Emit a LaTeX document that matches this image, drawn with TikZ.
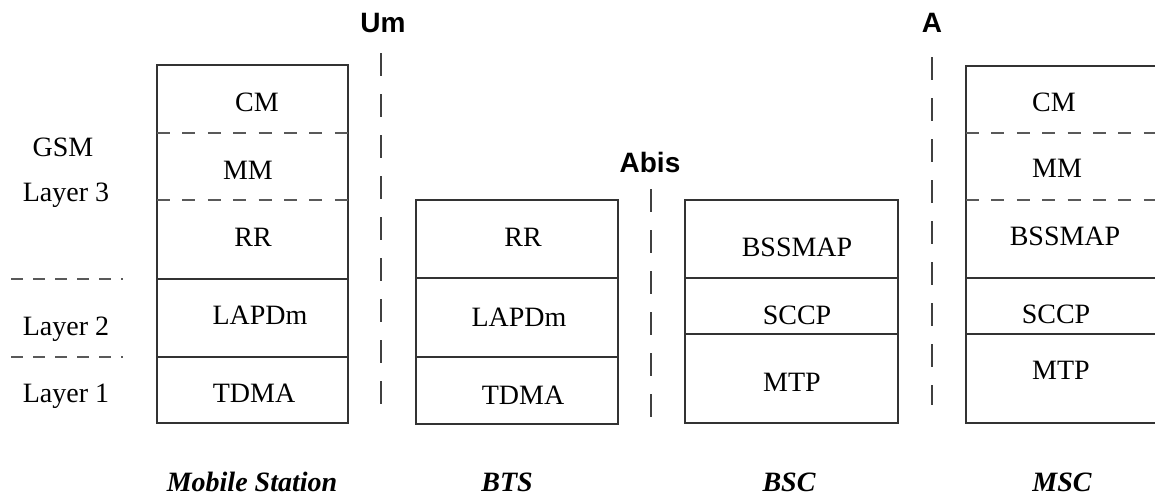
\documentclass[tikz,border=0pt]{standalone}
\usepackage{fontspec}
\setmainfont{Liberation Serif}
\newfontfamily\ifacefont{Liberation Sans}
\usetikzlibrary{positioning,calc}

\tikzset{
  proto/.style={font=\fontsize{14}{16}\selectfont, anchor=base, inner sep=0pt},
  iface/.style={font=\ifacefont\bfseries\fontsize{14}{16}\selectfont, anchor=base, inner sep=0pt},
  entity/.style={font=\bfseries\itshape\fontsize{14}{16}\selectfont, anchor=base, inner sep=0pt},
  stack/.style={draw=black!80, line width=0.65pt},
  sublayer/.style={draw=black!65, line width=0.6pt, dash pattern=on 6.5pt off 6.2pt},
  levelsep/.style={draw=black!65, line width=0.6pt, dash pattern=on 6pt off 5pt},
  cut/.style={draw=black!75, line width=0.6pt, dash pattern=on 11.5pt off 9pt}
}

\begin{document}
\begin{tikzpicture}[x=0.5pt,y=-0.5pt]
  \useasboundingbox (0,0) rectangle (1155,495);

  % layer labels on the left
  \node[proto] (gsm) at (63,156) {GSM};
  \node[proto] (lay3) at (66,201) {Layer 3};
  \node[proto] (lay2) at (66,335) {Layer 2};
  \node[proto] (lay1) at (66,402) {Layer 1};
  \draw[levelsep] (11,279) -- (123,279);
  \draw[levelsep] (11,357) -- (123,357);

  % Mobile Station
  \draw[stack] (157,65) rectangle (348,423);
  \draw[sublayer] (157,133) -- (348,133);
  \draw[sublayer] (157,200) -- (348,200);
  \draw[stack] (157,279) -- (348,279);
  \draw[stack] (157,357) -- (348,357);
  \node[proto] (mscm) at (257,111) {CM};
  \node[proto] (msmm) at (248,179) {MM};
  \node[proto] (msrr) at (253,246) {RR};
  \node[proto] (mslapd) at (260,324) {LAPDm};
  \node[proto] (mstdma) at (254,402) {TDMA};

  % BTS
  \draw[stack] (416,200) rectangle (618,424);
  \draw[stack] (416,278) -- (618,278);
  \draw[stack] (416,357) -- (618,357);
  \node[proto] (btsrr) at (523,246) {RR};
  \node[proto] (btslapd) at (519,326) {LAPDm};
  \node[proto] (btstdma) at (523,404) {TDMA};

  % BSC
  \draw[stack] (685,200) rectangle (898,423);
  \draw[stack] (685,278) -- (898,278);
  \draw[stack] (685,334) -- (898,334);
  \node[proto] (bscmap) at (797,256) {BSSMAP};
  \node[proto] (bscsccp) at (797,324) {SCCP};
  \node[proto] (bscmtp) at (792,391) {MTP};

  % MSC (runs off the right edge)
  \draw[stack] (966,66) rectangle (1170,423);
  \draw[sublayer] (966,133) -- (1170,133);
  \draw[sublayer] (966,200) -- (1170,200);
  \draw[stack] (966,278) -- (1170,278);
  \draw[stack] (966,334) -- (1170,334);
  \node[proto] (msccm) at (1054,111) {CM};
  \node[proto] (mscmm) at (1057,177) {MM};
  \node[proto] (mscmap) at (1065,245) {BSSMAP};
  \node[proto] (mscsccp) at (1056,323) {SCCP};
  \node[proto] (mscmtp) at (1061,379) {MTP};

  % interfaces
  \node[iface] (um) at (383,32) {Um};
  \node[iface] (abis) at (650,172) {Abis};
  \node[iface] (a) at (932,32) {A};
  \draw[cut] (381,53) -- (381,412);
  \draw[cut] (651,189) -- (651,418);
  \draw[cut] (932,57) -- (932,405);

  % network entities
  \node[entity] (ms) at (252,491) {Mobile Station};
  \node[entity] (bts) at (507,491) {BTS};
  \node[entity] (bsc) at (789,491) {BSC};
  \node[entity] (msc) at (1062,491) {MSC};
\end{tikzpicture}
\end{document}
